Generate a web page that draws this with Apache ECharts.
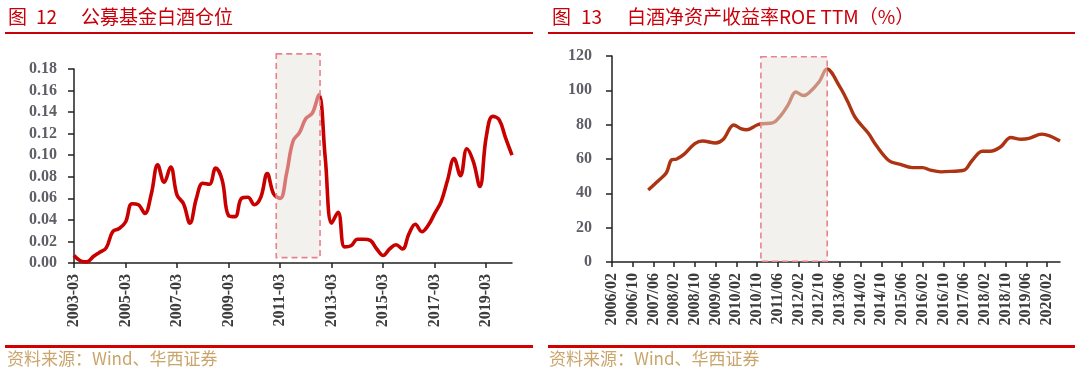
<!DOCTYPE html>
<html><head><meta charset="utf-8">
<script src="https://cdn.jsdelivr.net/npm/echarts@6/dist/echarts.min.js"></script>
<style>html,body{margin:0;padding:0;background:#fff}#c{width:1080px;height:375px}</style>
</head><body><div id="c"></div>
<script>
// ---------- Chart 12: 公募基金白酒仓位 (quarterly 2003-03 .. 2020-03) ----------
const fundQuarters = [];
for (let y = 2003; y <= 2020; y++) {
  for (const m of ['03', '06', '09', '12']) {
    if (y === 2020 && m !== '03') break;
    fundQuarters.push(y + '-' + m);
  }
}
const fundWeights = [
  0.007, 0.002, 0.001, 0.006, 0.010, 0.014, 0.029, 0.032, 0.038, 0.055,
  0.054, 0.046, 0.064, 0.091, 0.075, 0.089, 0.063, 0.055, 0.037, 0.060,
  0.074, 0.073, 0.088, 0.077, 0.044, 0.043, 0.060, 0.061, 0.054, 0.061,
  0.083, 0.064, 0.060, 0.083, 0.113, 0.121, 0.134, 0.139, 0.156, 0.098,
  0.037, 0.047, 0.015, 0.016, 0.022, 0.022, 0.021, 0.013, 0.007, 0.013,
  0.017, 0.013, 0.027, 0.036, 0.029, 0.035, 0.046, 0.057, 0.077, 0.097,
  0.081, 0.106, 0.094, 0.071, 0.117, 0.136, 0.133, 0.116, 0.100
];
const fundYTicks = { min: 0, max: 0.18, interval: 0.02 };
const fundHighlight = { from: 31.4, to: 38.2, low: 0.005, high: 0.194 };

// ---------- Chart 13: 白酒净资产收益率ROE TTM(%) (monthly axis 2006/02 .. 2020/07) ----------
const roeMonths = [];
for (let i = 0; i < 174; i++) {
  const m0 = 1 + i;
  const yy = 2006 + Math.floor(m0 / 12);
  const mm = (m0 % 12) + 1;
  roeMonths.push(yy + '/' + (mm < 10 ? '0' + mm : mm));
}
const roeDates = [
  '2007/04', '2007/08', '2007/11', '2008/01', '2008/03', '2008/06', '2008/10', '2009/01',
  '2009/06', '2009/09', '2010/01', '2010/04', '2010/06', '2010/10', '2010/12', '2011/04',
  '2011/07', '2011/10', '2012/01', '2012/04', '2012/06', '2012/10', '2013/01', '2013/06',
  '2013/09', '2013/12', '2014/05', '2014/08', '2015/01', '2015/05', '2015/10', '2016/02',
  '2016/05', '2016/09', '2017/01', '2017/06', '2017/09', '2018/01', '2018/04', '2018/08',
  '2018/12', '2019/04', '2019/07', '2019/12', '2020/07'
];
const roeValues = [
  42, 47.5, 52, 59.5, 60, 63, 69, 70.5,
  69.3, 71.5, 79.8, 77.5, 77, 79.8, 80.5, 81,
  85, 91.5, 99, 97, 98.5, 105, 112.5, 102,
  93.5, 84, 75, 68, 59, 57, 55, 55,
  53.5, 52.5, 52.8, 53.5, 59, 64.5, 64.5, 67,
  72.5, 71.5, 72, 74.5, 70.5
];
const roeYTicks = { min: 0, max: 120, interval: 20 };
const roeHighlight = { from: 57.5, to: 83.1, low: 0.4, high: 119.6 };

// ---------- styling ----------
const RED_TITLE = '#c8000a';
const SRC_COLOR = '#c9a56c';
const CJK = '"Noto Sans CJK SC", "Noto Sans", sans-serif';
const SERIF = '"Liberation Serif", "DejaVu Serif", serif';

function highlightSeries(xi, h) {
  return {
    type: 'custom', xAxisIndex: xi, yAxisIndex: xi, z: 5, silent: true,
    data: [[0, 0]],
    renderItem: function (params, api) {
      const px = function (v) {
        const i = Math.floor(v);
        const a = api.coord([i, h.low]);
        const b = api.coord([i + 1, h.low]);
        return a[0] + (b[0] - a[0]) * (v - i);
      };
      const l = px(h.from), r = px(h.to);
      const t = api.coord([0, h.high])[1], btm = api.coord([0, h.low])[1];
      return {
        type: 'rect',
        shape: { x: l, y: t, width: r - l, height: btm - t },
        style: { fill: 'rgba(231,229,222,0.52)', stroke: '#e8838c', lineWidth: 1.6, lineDash: [6, 4] }
      };
    }
  };
}

function xAxisCfg(gi, cats) {
  return {
    type: 'category', gridIndex: gi, data: cats, boundaryGap: false,
    axisLine: { lineStyle: { color: '#222', width: 1.5 } },
    axisTick: { interval: 7, length: 5, lineStyle: { color: '#222', width: 1.5 } },
    axisLabel: { interval: 7, rotate: 90, margin: 11, color: '#3c3c3c', fontFamily: SERIF, fontWeight: 'bold', fontSize: 16 },
    splitLine: { show: false }
  };
}
function yAxisCfg(gi, t, dec, margin) {
  return {
    type: 'value', gridIndex: gi, min: t.min, max: t.max, interval: t.interval,
    axisLine: { show: true, lineStyle: { color: '#222', width: 1.5 } },
    axisTick: { show: true, length: 6, lineStyle: { color: '#222', width: 1.5 } },
    axisLabel: { margin: margin, color: '#5e5e66', fontFamily: SERIF, fontWeight: 'bold', fontSize: 16,
      formatter: function (v) { return v.toFixed(dec); } },
    splitLine: { show: false }
  };
}

const titleFont = '19px ' + CJK;
const chart = echarts.init(document.getElementById('c'), null, { renderer: 'canvas' });
chart.setOption({
  animation: false,
  backgroundColor: '#fff',
  grid: [
    { left: 74, top: 69, width: 438, height: 194 },
    { left: 612, top: 56, width: 448, height: 206 }
  ],
  xAxis: [xAxisCfg(0, fundQuarters), xAxisCfg(1, roeMonths)],
  yAxis: [yAxisCfg(0, fundYTicks, 2, 17), yAxisCfg(1, roeYTicks, 0, 20)],
  series: [
    {
      type: 'line', xAxisIndex: 0, yAxisIndex: 0, data: fundWeights,
      smooth: 0.4, symbol: 'none', z: 2,
      lineStyle: { color: '#c80000', width: 3.6 }
    },
    highlightSeries(0, fundHighlight),
    {
      type: 'line', xAxisIndex: 1, yAxisIndex: 1,
      data: roeDates.map(function (d, i) { return [d, roeValues[i]]; }),
      smooth: 0.35, symbol: 'none', z: 2,
      lineStyle: { color: '#ad3412', width: 3.4 }
    },
    highlightSeries(1, roeHighlight)
  ],
  graphic: [
    { type: 'text', left: 8, top: 7, style: { text: '图', fill: RED_TITLE, font: titleFont } },
    { type: 'text', left: 36, top: 7, style: { text: '12', fill: RED_TITLE, font: titleFont } },
    { type: 'text', left: 81, top: 7, style: { text: '公募基金白酒仓位', fill: RED_TITLE, font: titleFont } },
    { type: 'text', left: 552, top: 7, style: { text: '图', fill: RED_TITLE, font: titleFont } },
    { type: 'text', left: 581, top: 7, style: { text: '13', fill: RED_TITLE, font: titleFont } },
    { type: 'text', left: 627, top: 7, style: { text: '白酒净资产收益率ROE TTM（%）', fill: RED_TITLE, font: titleFont } },
    { type: 'rect', left: 5, top: 32, shape: { width: 528, height: 2 }, style: { fill: '#c8000a' } },
    { type: 'rect', left: 548, top: 32, shape: { width: 527, height: 2 }, style: { fill: '#c8000a' } },
    { type: 'rect', left: 5, top: 345, shape: { width: 528, height: 3 }, style: { fill: '#d40000' } },
    { type: 'rect', left: 548, top: 345, shape: { width: 527, height: 3 }, style: { fill: '#d40000' } },
    { type: 'text', left: 7, top: 350, style: { text: '资料来源：Wind、华西证券', fill: SRC_COLOR, font: '17px ' + CJK } },
    { type: 'text', left: 549, top: 350, style: { text: '资料来源：Wind、华西证券', fill: SRC_COLOR, font: '17px ' + CJK } }
  ]
});
</script>
</body></html>
